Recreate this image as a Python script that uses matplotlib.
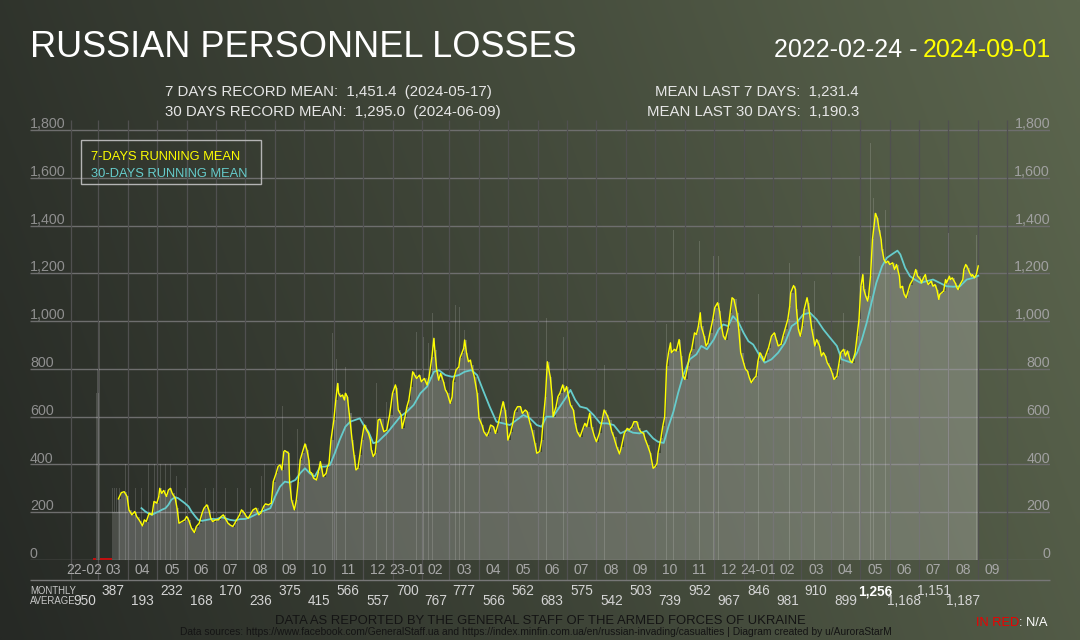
import matplotlib
matplotlib.use("Agg")
import matplotlib.pyplot as plt
from matplotlib.patches import Rectangle
import numpy as np
import pandas as pd

plt.rcParams['font.family'] = ['Liberation Sans', 'DejaVu Sans']

# day 0 = 2022-02-24
start = pd.Timestamp('2022-02-24')
last_day = 920

# 7-days running mean (day, value)
mean7_points = [
    (26, 256), (29, 282), (32, 286), (35, 266), (37, 210), (40, 189), (43, 203), (45, 182),
    (48, 165), (51, 143), (53, 168), (55, 161), (58, 196), (61, 189), (63, 245), (66, 238),
    (68, 266), (69, 300), (71, 279), (73, 291), (76, 266), (78, 293), (80, 300), (82, 279),
    (85, 259), (87, 217), (89, 154), (92, 161), (95, 168), (97, 182), (99, 168), (102, 133),
    (105, 115), (107, 140), (110, 154), (113, 196), (115, 217), (118, 231), (120, 210), (122, 175),
    (124, 161), (127, 168), (130, 168), (133, 182), (135, 189), (138, 168), (140, 154), (142, 147),
    (145, 140), (147, 154), (149, 168), (152, 189), (154, 210), (157, 196), (159, 182), (161, 175),
    (164, 196), (166, 210), (169, 217), (172, 189), (174, 196), (177, 224), (179, 235), (182, 231),
    (185, 238), (187, 328), (190, 363), (192, 391), (194, 398), (196, 377), (198, 454), (199, 458),
    (203, 447), (204, 328), (206, 252), (209, 210), (211, 252), (213, 328), (215, 419), (217, 447),
    (220, 486), (222, 461), (224, 419), (225, 370), (227, 363), (229, 342), (232, 335), (234, 370),
    (236, 412), (237, 391), (239, 349), (242, 363), (243, 384), (245, 405), (247, 502), (250, 586),
    (252, 670), (254, 739), (255, 698), (257, 684), (259, 691), (261, 670), (262, 698), (264, 684),
    (266, 614), (269, 502), (271, 440), (273, 377), (275, 384), (277, 440), (279, 502), (281, 551),
    (282, 565), (284, 544), (286, 530), (288, 502), (289, 461), (291, 433), (293, 447), (295, 530),
    (296, 586), (298, 590), (302, 537), (305, 544), (308, 607), (311, 698), (314, 733), (315, 719),
    (317, 628), (320, 607), (321, 551), (324, 600), (326, 642), (328, 670), (330, 726), (332, 788),
    (334, 774), (336, 760), (339, 774), (341, 746), (344, 760), (347, 733), (349, 767), (352, 851),
    (354, 928), (355, 879), (357, 795), (359, 753), (361, 781), (364, 746), (366, 712), (368, 698),
    (371, 656), (373, 684), (374, 746), (377, 795), (380, 809), (381, 844), (383, 865), (385, 886),
    (386, 921), (388, 865), (390, 830), (392, 837), (393, 816), (396, 767), (399, 698), (401, 593),
    (404, 565), (406, 537), (409, 519), (411, 537), (413, 565), (416, 558), (418, 530), (421, 572),
    (424, 628), (426, 663), (428, 628), (430, 558), (431, 502), (434, 537), (436, 572), (438, 621),
    (441, 642), (444, 642), (446, 614), (449, 628), (451, 621), (454, 572), (456, 544), (459, 489),
    (461, 447), (464, 454), (466, 502), (468, 600), (470, 684), (472, 830), (475, 767), (477, 684),
    (478, 600), (481, 642), (483, 684), (485, 698), (488, 733), (490, 705), (492, 726), (494, 684),
    (496, 649), (499, 628), (501, 572), (503, 537), (506, 516), (509, 551), (511, 572), (513, 558),
    (516, 614), (518, 558), (521, 516), (523, 495), (526, 530), (529, 586), (531, 628), (534, 607),
    (536, 586), (539, 537), (541, 516), (544, 475), (547, 444), (549, 475), (552, 530), (555, 551),
    (557, 544), (560, 558), (562, 579), (565, 579), (567, 551), (569, 537), (572, 530), (574, 502),
    (576, 482), (579, 447), (581, 405), (582, 384), (584, 391), (586, 405), (587, 447), (590, 509),
    (592, 560), (594, 600), (596, 812), (598, 868), (600, 909), (601, 868), (604, 882), (606, 875),
    (609, 923), (611, 854), (613, 770), (615, 756), (618, 812), (620, 861), (622, 882), (625, 951),
    (627, 944), (629, 979), (631, 1035), (632, 979), (635, 937), (637, 896), (639, 909), (641, 951),
    (644, 1007), (646, 1056), (649, 1077), (651, 1042), (653, 979), (655, 937), (657, 923), (660, 972),
    (662, 1035), (664, 1098), (666, 1091), (669, 1035), (671, 965), (673, 868), (676, 826), (678, 798),
    (680, 791), (682, 763), (684, 742), (686, 756), (689, 770), (691, 833), (693, 868), (695, 854),
    (697, 833), (700, 868), (702, 889), (705, 937), (708, 951), (710, 923), (712, 896), (715, 903),
    (717, 937), (719, 965), (722, 1007), (724, 1063), (725, 1119), (728, 1149), (730, 1133), (731, 1049),
    (733, 965), (735, 937), (737, 979), (739, 1049), (742, 1098), (743, 1077), (745, 1021), (747, 965),
    (749, 923), (750, 896), (752, 923), (755, 896), (757, 854), (759, 868), (761, 854), (763, 826),
    (766, 805), (768, 784), (770, 756), (773, 770), (775, 819), (777, 868), (780, 882), (782, 854),
    (784, 875), (787, 833), (789, 826), (792, 868), (794, 937), (796, 1007), (798, 1146), (800, 1195),
    (801, 1133), (803, 1105), (805, 1084), (806, 1105), (808, 1188), (810, 1342), (812, 1411), (813, 1451),
    (815, 1432), (817, 1383), (819, 1342), (820, 1300), (822, 1258), (824, 1244), (826, 1251), (828, 1237),
    (831, 1244), (833, 1216), (835, 1237), (838, 1188), (839, 1139), (841, 1146), (843, 1112), (845, 1098),
    (847, 1126), (849, 1153), (852, 1174), (854, 1202), (855, 1216), (857, 1188), (860, 1174), (861, 1160),
    (863, 1181), (865, 1195), (866, 1174), (868, 1153), (871, 1167), (873, 1146), (875, 1153), (877, 1132),
    (879, 1091), (880, 1112), (882, 1119), (884, 1126), (886, 1174), (887, 1160), (890, 1188), (891, 1174),
    (893, 1181), (896, 1160), (898, 1139), (899, 1132), (901, 1153), (904, 1174), (905, 1216), (907, 1237),
    (909, 1223), (911, 1202), (913, 1188), (914, 1195), (916, 1181), (918, 1195), (920, 1231),
]

# 30-days running mean (day, value)
mean30_points = [
    (50, 217), (54, 203), (57, 196), (61, 189), (64, 196), (68, 203), (71, 210), (75, 217),
    (78, 231), (81, 252), (85, 263), (88, 259), (92, 247), (95, 238), (99, 224), (102, 203),
    (106, 182), (109, 168), (113, 164), (118, 168), (123, 172), (128, 171), (133, 179), (137, 175),
    (142, 168), (147, 165), (152, 171), (158, 172), (163, 179), (168, 189), (173, 200), (178, 207),
    (184, 217), (189, 266), (194, 307), (199, 328), (204, 324), (210, 335), (215, 363), (220, 384),
    (225, 363), (230, 349), (236, 391), (241, 391), (246, 398), (251, 447), (256, 502), (262, 558),
    (267, 579), (272, 586), (277, 593), (281, 565), (286, 537), (291, 489), (296, 495), (301, 515),
    (305, 530), (312, 565), (319, 600), (326, 621), (333, 649), (340, 698), (347, 726), (354, 788),
    (359, 795), (366, 774), (373, 767), (380, 774), (386, 788), (393, 795), (399, 774), (405, 712),
    (412, 642), (419, 579), (426, 572), (433, 565), (440, 586), (447, 607), (454, 593), (461, 565),
    (466, 558), (471, 600), (478, 600), (485, 642), (492, 684), (496, 712), (501, 670), (506, 642),
    (513, 635), (520, 607), (527, 572), (534, 572), (541, 565), (548, 530), (555, 544), (561, 533),
    (568, 530), (575, 541), (582, 509), (587, 495), (593, 490), (598, 560), (603, 620), (608, 700),
    (613, 770), (620, 840), (627, 861), (632, 896), (638, 882), (645, 923), (650, 965), (655, 986),
    (660, 979), (665, 1021), (671, 993), (676, 951), (681, 916), (686, 902), (693, 854), (698, 826),
    (705, 840), (712, 868), (719, 909), (726, 979), (731, 993), (738, 1028), (745, 1035), (752, 1007),
    (759, 965), (766, 930), (773, 896), (778, 840), (783, 833), (788, 826), (794, 868), (799, 923),
    (804, 993), (809, 1077), (814, 1160), (820, 1230), (825, 1265), (830, 1279), (836, 1295), (839, 1279),
    (844, 1223), (849, 1188), (854, 1174), (860, 1160), (866, 1167), (873, 1174), (880, 1160), (887, 1146),
    (894, 1144), (901, 1146), (908, 1174), (915, 1181), (920, 1190),
]

# single days standing out from the fill (day, losses)
spike_points = [
    (3, 700), (4, 800), (5, 700), (6, 1000), (10, 1000),
    (20, 300), (21, 200), (22, 300), (23, 200), (24, 300), (25, 200),
    (27, 300), (33, 400), (36, 300), (44, 300), (50, 300), (57, 400), (64, 400), (70, 400),
    (75, 400), (80, 400), (86, 350), (96, 300), (117, 300), (125, 300), (137, 300), (150, 300),
    (163, 300), (175, 350), (178, 400), (197, 645), (212, 550), (249, 951), (253, 840), (262, 809),
    (294, 740), (305, 663), (336, 955), (343, 935), (348, 907), (353, 1032), (376, 1067), (381, 1060),
    (386, 962), (471, 1011), (481, 1004), (489, 935), (531, 816), (596, 990), (603, 1383), (630, 1335),
    (645, 1272), (650, 1272), (692, 1112), (724, 1244), (750, 1167), (780, 1035), (797, 1272),
    (808, 1744), (811, 1515), (824, 1465), (889, 1369), (918, 1360),
]

# days with no daily figure (shown in red)
na_days = [0, 1, 2, 7, 8, 9, 11, 12, 13, 14, 15, 16, 17, 18, 19]

month_avg = [950, 387, 193, 232, 168, 170, 236, 375, 415, 566, 557, 700, 767, 777, 566,
             562, 683, 575, 542, 503, 739, 952, 967, 846, 981, 910, 899, 1256, 1168, 1151, 1187]
best_month = 27

y_ticks = [0, 200, 400, 600, 800, 1000, 1200, 1400, 1600, 1800]

d7, v7 = np.array(mean7_points).T
d30, v30 = np.array(mean30_points).T
ds, vs = np.array(spike_points).T

W, H = 1080, 640
fig = plt.figure(figsize=(W / 100, H / 100), dpi=100)

# background gradient
bg = fig.add_axes([0, 0, 1, 1], zorder=0)
gx, gy = np.meshgrid(np.linspace(0, 1, 216), np.linspace(0, 1, 128))
t = np.clip(0.82 * gx + 0.18 * (1 - gy), 0, 1)[..., None]
c0 = np.array([38, 41, 37]) / 255
c1 = np.array([92, 102, 78]) / 255
bg.imshow(c0 + (c1 - c0) * t, aspect='auto', extent=[0, 1, 0, 1], interpolation='bilinear')
bg.axis('off')


def fpx(x, y):
    return x / W, 1 - y / H


# plot area: x from 30px to 1050px, y from 125px (top) to 560px (zero)
ax = fig.add_axes([30 / W, 80 / H, 1020 / W, 435 / H], zorder=1)
ax.patch.set_alpha(0)
ax.set_xlim(-65.9, 994.6)
ax.set_ylim(0, 1821)
ax.axis('off')


def below(p):
    # pixel row -> axes fraction (for text under the plot)
    return (560 - p) / 435


month_edges = (pd.date_range('2022-02-01', '2024-10-01', freq='MS') - start).days.values
months = pd.date_range('2022-02-01', '2024-09-01', freq='MS')

ax.hlines(y_ticks, -65.9, 994.6, color='#6e6e6e', lw=1.0, zorder=1)
ax.vlines(month_edges, below(580), 1.012, color='#505050', lw=0.9, zorder=1,
          transform=ax.get_xaxis_transform(), clip_on=False)
ax.hlines(below(580), 0, 1, color='#777777', lw=1.0, transform=ax.transAxes, clip_on=False)

# daily losses
ax.bar(d7[:-1], v7[:-1], width=np.diff(d7), align='edge', color='white', alpha=0.21,
       linewidth=0, antialiased=False, zorder=2)
ax.bar(ds, vs, width=1.0, color='white', alpha=0.15, linewidth=0, zorder=2)
ax.bar(na_days, [9] * len(na_days), width=1.0, color='#c01010', linewidth=0, zorder=3)

ax.plot(d30, v30, color='#66cccc', lw=1.3, zorder=4)
ax.plot(d7, v7, color='#ffff00', lw=1.0, zorder=5)

# y labels left and right, sitting on the grid lines
for v in y_ticks:
    ax.text(0, v + 8, f"{v:,}", transform=ax.get_yaxis_transform(), ha='left', va='baseline',
            fontsize=10.3, color='#8f8f8f')
    ax.text(1, v + 8, f"{v:,}", transform=ax.get_yaxis_transform(), ha='right', va='baseline',
            fontsize=10.3, color='#a0a0a0')

# month labels and monthly averages
xt = ax.get_xaxis_transform()
for i, m in enumerate(months):
    c = (month_edges[i] + month_edges[i + 1]) / 2
    lab = f"{m:%y-%m}" if (i == 0 or m.month == 1) else f"{m:%m}"
    ax.text(c, below(570), lab, transform=xt, ha='center', va='center', fontsize=10,
            color='#a8a8a8', clip_on=False)
    if i < len(month_avg):
        row = 601 if i % 2 == 0 else 591
        bold = i == best_month
        ax.text(c, below(row), f"{month_avg[i]:,}", transform=xt, ha='center', va='center',
                fontsize=9.8, color='white' if bold else '#d4d4d4',
                fontweight='bold' if bold else 'normal', clip_on=False)

fig.text(*fpx(30, 591), "MONTHLY", fontsize=6.9, color='#c8c8c8', va='center')
fig.text(*fpx(30, 601), "AVERAGE", fontsize=6.9, color='#c8c8c8', va='center')

# legend box
x0, y0 = fpx(81, 184)
x1, y1 = fpx(261, 140)
fig.add_artist(Rectangle((x0, y0), x1 - x0, y1 - y0, transform=fig.transFigure,
                         facecolor='none', edgecolor='#b4b4b4', lw=1.0, zorder=6))
fig.text(*fpx(91, 160), "7-DAYS RUNNING MEAN", fontsize=9.3, color='#ffff00', va='baseline', zorder=6)
fig.text(*fpx(91, 177), "30-DAYS RUNNING MEAN", fontsize=9.3, color='#66cccc', va='baseline', zorder=6)

# titles
fig.text(*fpx(30, 57), "RUSSIAN PERSONNEL LOSSES", fontsize=26, color='white', va='baseline')
fig.text(*fpx(1051, 57), "2024-09-01", fontsize=18, color='#ffff00', va='baseline', ha='right')
fig.text(*fpx(924, 57), "2022-02-24 - ", fontsize=18, color='white', va='baseline', ha='right')

fig.text(*fpx(165, 96), "7 DAYS RECORD MEAN:  1,451.4  (2024-05-17)", fontsize=10.8,
         color='#e6e6e6', va='baseline')
fig.text(*fpx(165, 116), "30 DAYS RECORD MEAN:  1,295.0  (2024-06-09)", fontsize=10.8,
         color='#e6e6e6', va='baseline')
fig.text(*fpx(859, 96), "MEAN LAST 7 DAYS:  1,231.4", fontsize=10.8, color='#e6e6e6',
         va='baseline', ha='right')
fig.text(*fpx(859, 116), "MEAN LAST 30 DAYS:  1,190.3", fontsize=10.8, color='#e6e6e6',
         va='baseline', ha='right')

# footer
fig.text(*fpx(540, 621), "DATA AS REPORTED BY THE GENERAL STAFF OF THE ARMED FORCES OF UKRAINE",
         fontsize=9.4, color='#141414', ha='center', va='center')
fig.text(*fpx(536, 632), "Data sources: https://www.facebook.com/GeneralStaff.ua and "
         "https://index.minfin.com.ua/en/russian-invading/casualties | Diagram created by u/AuroraStarM",
         fontsize=7.4, color='#141414', ha='center', va='center')
fig.text(*fpx(1019, 623), "IN RED", fontsize=9.3, color='#ee0000', ha='right', va='center')
fig.text(*fpx(1019, 623), ": N/A", fontsize=9.3, color='white', ha='left', va='center')

fig.savefig('out.png', dpi=100)
